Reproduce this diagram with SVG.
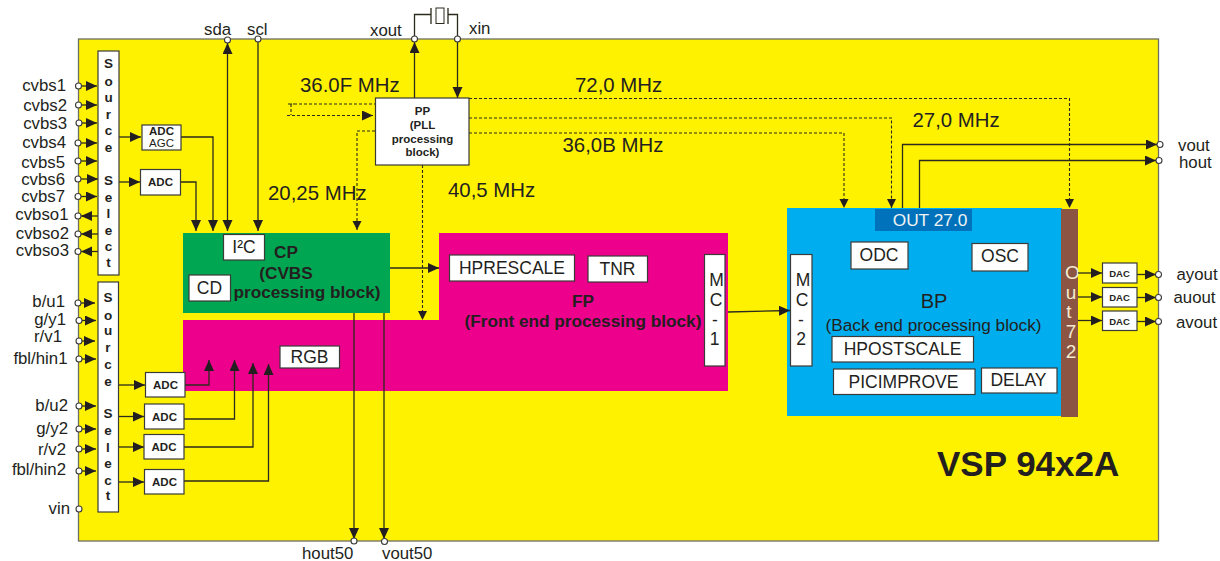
<svg xmlns="http://www.w3.org/2000/svg" width="1220" height="561" viewBox="0 0 1220 561">
<style>
text{font-family:"Liberation Sans",Arial,sans-serif;fill:#231f20}
.pin{font-size:16.8px}.r{text-anchor:end}
.mhz{font-size:20.4px}
.lbl{font-size:17.5px;text-anchor:middle}
.b{font-weight:bold}
.big{font-size:17.2px;text-anchor:middle;font-weight:bold}
.adc{font-size:11.5px;font-weight:bold;text-anchor:middle}
.dac{font-size:9.5px;font-weight:bold;text-anchor:middle}
.src{font-size:13.5px;font-weight:bold;text-anchor:middle}
.w{fill:#fff;stroke:#3a3a38;stroke-width:1.2}
.c{fill:none;stroke:#2b2a1c;stroke-width:1.3}
.d{fill:none;stroke:#2b2a1c;stroke-width:1.1;stroke-dasharray:3 2}
.a{marker-end:url(#arr)}
.s{marker-end:url(#sm)}
.p{fill:#fff;stroke:#3a3a38;stroke-width:1.1}
.o{fill:#f3ead0;font-size:19px;text-anchor:middle}
</style>
<defs>
<marker id="arr" markerUnits="userSpaceOnUse" markerWidth="12" markerHeight="11" refX="11" refY="5" orient="auto"><path d="M0 0L11 5L0 10Z" fill="#231f20"/></marker>
<marker id="sm" markerUnits="userSpaceOnUse" markerWidth="10" markerHeight="10" refX="9" refY="4.500" orient="auto"><path d="M0 0L9 4.500L0 9Z" fill="#231f20"/></marker>
<marker id="arrs" markerUnits="userSpaceOnUse" markerWidth="12" markerHeight="11" refX="11" refY="5" orient="auto-start-reverse"><path d="M0 0L11 5L0 10Z" fill="#231f20"/></marker>
</defs>

<g id="chip"><rect x="78.500" y="39" width="1080" height="502" fill="#fff200" stroke="#6d6e63" stroke-width="1.300"/></g>

<g id="cp-block"><rect x="183" y="233" width="207" height="80" fill="#00a651"/>
<text class="big" x="286" y="258">CP</text><text class="big" x="286" y="279">(CVBS</text><text class="big" x="307" y="298">processing block)</text></g>
<g id="fp-block"><path d="M183 320H439V233H728V391H183Z" fill="#ec008c"/>
<text class="big" x="583" y="307">FP</text><text class="big" x="583" y="327">(Front end processing block)</text></g>
<g id="bp-block"><rect x="787" y="208" width="275" height="208" fill="#00aeef"/>
<text x="934" y="308" font-size="20" text-anchor="middle">BP</text><text x="933.500" y="331" font-size="17.200" text-anchor="middle">(Back end processing block)</text></g>
<g id="out72"><rect x="1061" y="209" width="17" height="208" fill="#8c5543"/>
<text class="o" x="1072.500" y="279">O</text><text class="o" x="1071" y="299">u</text><text class="o" x="1069" y="318">t</text><text class="o" x="1071" y="338">7</text><text class="o" x="1071" y="358">2</text></g>
<g id="out27"><rect x="875" y="209" width="97" height="22" fill="#0072bc"/><text x="930" y="226" font-size="17.300" text-anchor="middle" style="fill:#f2f2f2">OUT 27.0</text></g>

<g id="connectors">
<g class="conn-solid">
<path class="c a" d="M78 86H97"/><path class="c a" d="M78 105H97"/><path class="c a" d="M79 123H97"/><path class="c a" d="M78 143H97"/><path class="c a" d="M78 161H97"/><path class="c a" d="M78 179H98"/><path class="c a" d="M78 196.500H97"/>
<path class="c a" d="M98 216H81"/><path class="c a" d="M98 234H81"/><path class="c a" d="M98 251.500H81"/>
<path class="c a" d="M78 303H95"/><path class="c a" d="M79 320.500H96"/><path class="c a" d="M79 341H95"/><path class="c a" d="M79 359H96"/>
<path class="c a" d="M79 406H96"/><path class="c a" d="M79 429H96"/><path class="c a" d="M79 449H96"/><path class="c a" d="M79 471H96"/>
<path class="c a" d="M119 137H141"/><path class="c a" d="M119 182H140"/>
<path class="c a" d="M181 137H213V231"/><path class="c a" d="M180.500 182H196V231"/>
<path class="c a" d="M227.500 231V43" marker-start="url(#arrs)"/>
<path class="c a" d="M258 39V231"/>
<path class="c a" d="M118 385H145"/><path class="c a" d="M118 416.500H144"/><path class="c a" d="M118 447H144"/><path class="c a" d="M118 482H144"/>
<path class="c a" d="M185 385H209V360"/><path class="c a" d="M184 419H234.500V360"/><path class="c a" d="M184 447H253V363"/><path class="c a" d="M184 481H268.500V364"/>
<path class="c a" d="M354 313V539"/><path class="c a" d="M384 313V539"/>
<path class="c a" d="M414.500 98V42"/><path class="c a" d="M457.500 39V98"/>
<path class="c" d="M414.500 39V14.500H431M448 14.500H457.500V39"/>
<path class="c" d="M431 8V24M448 8V24"/><rect x="436" y="8" width="8" height="15.500" fill="none" stroke="#2b2a1c" stroke-width="1"/>
<path class="c a" d="M390 268H439"/>
<path class="c a" d="M728 312L790 310.500"/>
<path class="c a" d="M902.500 208V144.500H1157"/><path class="c a" d="M919.500 208V160.500H1156"/>
<path class="c a" d="M1078 273H1102"/><path class="c a" d="M1078 297H1102"/><path class="c a" d="M1078 320.500H1102"/>
<path class="c a" d="M1137 274.500H1156"/><path class="c a" d="M1137 297.500H1156"/><path class="c a" d="M1137 321.500H1156"/>
</g>
<g class="conn-dashed">
<path class="d" d="M289 104H375M291 104V115M288 104H294"/>
<path class="d" d="M287 115.500H373" marker-end="url(#arr)"/>
<path class="d s" d="M375 131H357V230"/>
<path class="d s" d="M422.500 165V320"/>
<path class="d s" d="M469 98.500H1069.500V208"/>
<path class="d s" d="M469 118H891.500V208"/>
<path class="d s" d="M469 133H844V208"/>
</g>
</g>

<g id="source-select-1"><rect class="w" x="98" y="51" width="21" height="224"/>
<text class="src" x="108.500" y="68">S</text><text class="src" x="108.500" y="86">o</text><text class="src" x="108.500" y="102">u</text><text class="src" x="108.500" y="119">r</text><text class="src" x="108.500" y="135">c</text><text class="src" x="108.500" y="152">e</text><text class="src" x="108.500" y="185">S</text><text class="src" x="108.500" y="202">e</text><text class="src" x="108.500" y="218">l</text><text class="src" x="108.500" y="235">e</text><text class="src" x="108.500" y="251">c</text><text class="src" x="108.500" y="267">t</text></g>
<g id="source-select-2"><rect class="w" x="98" y="282" width="20.500" height="230"/>
<text class="src" x="108" y="302">S</text><text class="src" x="108" y="320">o</text><text class="src" x="108" y="335">u</text><text class="src" x="108" y="352">r</text><text class="src" x="108" y="369">c</text><text class="src" x="108" y="386">e</text><text class="src" x="108" y="418">S</text><text class="src" x="108" y="435">e</text><text class="src" x="108" y="452">l</text><text class="src" x="108" y="468">e</text><text class="src" x="108" y="485">c</text><text class="src" x="108" y="500">t</text></g>

<g id="adc-agc"><rect class="w" x="142" y="125" width="39" height="25"/><text class="adc" x="161.500" y="135">ADC</text><text x="161.500" y="147" font-size="11.500" text-anchor="middle">AGC</text></g>
<g id="adc-1"><rect class="w" x="140.500" y="169.500" width="40" height="25.500"/><text class="adc" x="160.500" y="186">ADC</text></g>
<g id="adc-2"><rect class="w" x="145.500" y="372.500" width="39.500" height="24.500"/><text class="adc" x="165.500" y="388.500">ADC</text></g>
<g id="adc-3"><rect class="w" x="144.500" y="404" width="39.500" height="25"/><text class="adc" x="164.500" y="420.500">ADC</text></g>
<g id="adc-4"><rect class="w" x="144" y="434.500" width="40" height="24.500"/><text class="adc" x="164" y="450.500">ADC</text></g>
<g id="adc-5"><rect class="w" x="144.500" y="469.500" width="39.500" height="24.500"/><text class="adc" x="164.500" y="485.500">ADC</text></g>

<g id="i2c"><rect class="w" x="223.500" y="234.500" width="41" height="25.500"/><text class="lbl" x="244" y="253">I²C</text></g>
<g id="cd"><rect class="w" x="189" y="275" width="41.500" height="26"/><text class="lbl" x="209.500" y="293.500">CD</text></g>
<g id="rgb"><rect class="w" x="280" y="346" width="59.500" height="22"/><text class="lbl" x="309.500" y="362.500">RGB</text></g>
<g id="hprescale"><rect class="w" x="449.500" y="255" width="125" height="26"/><text class="lbl" x="512" y="273.500">HPRESCALE</text></g>
<g id="tnr"><rect class="w" x="588" y="256" width="59.500" height="26"/><text class="lbl" x="617.500" y="274.500">TNR</text></g>
<g id="mc1"><rect class="w" x="704.500" y="254.500" width="20.500" height="111.500"/><text class="lbl" x="716.500" y="286">M</text><text class="lbl" x="716" y="305.700">C</text><text class="lbl" x="715" y="326">-</text><text class="lbl" x="714.500" y="345">1</text></g>
<g id="mc2"><rect class="w" x="790.500" y="254.500" width="21.500" height="111.500"/><text class="lbl" x="803" y="286">M</text><text class="lbl" x="802" y="305.700">C</text><text class="lbl" x="801" y="326">-</text><text class="lbl" x="801" y="345">2</text></g>
<g id="odc"><rect class="w" x="851" y="242" width="57" height="27"/><text class="lbl" x="879" y="261">ODC</text></g>
<g id="osc"><rect class="w" x="972" y="243.500" width="56" height="27.500"/><text class="lbl" x="1000" y="262">OSC</text></g>
<g id="hpostscale"><rect class="w" x="832" y="336.500" width="141.500" height="25.500"/><text class="lbl" x="902.500" y="354.500">HPOSTSCALE</text></g>
<g id="picimprove"><rect class="w" x="833.500" y="369" width="141.500" height="25.500"/><text class="lbl" x="903.500" y="387.500">PICIMPROVE</text></g>
<g id="delay"><rect class="w" x="981.500" y="368" width="75.500" height="25"/><text class="lbl" x="1018.500" y="386">DELAY</text></g>

<g id="pp"><rect class="w" x="375.500" y="98" width="93.500" height="67"/>
<text class="adc" x="422.500" y="115">PP</text><text class="adc" x="422.500" y="129">(PLL</text><text class="adc" x="422.500" y="143">processing</text><text class="adc" x="422.500" y="156">block)</text></g>

<g id="dac-1"><rect class="w" x="1102.500" y="263" width="34.500" height="20"/><text class="dac" x="1119.500" y="276.500">DAC</text></g>
<g id="dac-2"><rect class="w" x="1102.500" y="287.500" width="34.500" height="19.500"/><text class="dac" x="1119.500" y="300.500">DAC</text></g>
<g id="dac-3"><rect class="w" x="1102.500" y="311" width="34.500" height="19.500"/><text class="dac" x="1119.500" y="324.500">DAC</text></g>

<g id="pins">
<circle class="p" cx="78.500" cy="86" r="3"/><circle class="p" cx="78.500" cy="105" r="3"/><circle class="p" cx="79" cy="123" r="3"/><circle class="p" cx="78" cy="143" r="3"/><circle class="p" cx="78" cy="161" r="3"/><circle class="p" cx="78" cy="179" r="3"/><circle class="p" cx="78" cy="196.500" r="3"/><circle class="p" cx="78" cy="216" r="3"/><circle class="p" cx="78" cy="234" r="3"/><circle class="p" cx="78" cy="251.500" r="3"/>
<circle class="p" cx="78" cy="303" r="3"/><circle class="p" cx="79" cy="320.500" r="3"/><circle class="p" cx="79" cy="341" r="3"/><circle class="p" cx="79" cy="359" r="3"/><circle class="p" cx="79" cy="406" r="3"/><circle class="p" cx="79" cy="429" r="3"/><circle class="p" cx="79" cy="449" r="3"/><circle class="p" cx="79" cy="471" r="3"/><circle class="p" cx="79" cy="509" r="3"/>
<circle class="p" cx="227.500" cy="40" r="3"/><circle class="p" cx="258" cy="39" r="3"/><circle class="p" cx="414.500" cy="39" r="3"/><circle class="p" cx="457.500" cy="39" r="3"/>
<circle class="p" cx="354" cy="541" r="3"/><circle class="p" cx="384.500" cy="541.500" r="3"/>
<circle class="p" cx="1160" cy="144.500" r="3"/><circle class="p" cx="1159" cy="160.500" r="3"/><circle class="p" cx="1158.500" cy="274.500" r="3"/><circle class="p" cx="1158.500" cy="297.500" r="3"/><circle class="p" cx="1158.500" cy="321.500" r="3"/>
</g>

<g id="labels">
<text class="pin r" x="66" y="91">cvbs1</text><text class="pin r" x="67" y="111">cvbs2</text><text class="pin r" x="67" y="129">cvbs3</text><text class="pin r" x="66" y="148">cvbs4</text><text class="pin r" x="65" y="168">cvbs5</text><text class="pin r" x="65" y="185">cvbs6</text><text class="pin r" x="65" y="202">cvbs7</text><text class="pin r" x="68.500" y="220">cvbso1</text><text class="pin r" x="69" y="239">cvbso2</text><text class="pin r" x="69" y="256">cvbso3</text>
<text class="pin r" x="65" y="307">b/u1</text><text class="pin r" x="66" y="325">g/y1</text><text class="pin r" x="62" y="342">r/v1</text><text class="pin r" x="67.500" y="364">fbl/hin1</text><text class="pin r" x="68" y="411">b/u2</text><text class="pin r" x="68" y="434">g/y2</text><text class="pin r" x="66" y="455">r/v2</text><text class="pin r" x="66" y="475">fbl/hin2</text><text class="pin r" x="70" y="514">vin</text>
<text class="pin" x="204" y="35">sda</text><text class="pin" x="247" y="35">scl</text><text class="pin" x="370" y="36">xout</text><text class="pin" x="469" y="34">xin</text>
<text class="pin" x="302" y="559">hout50</text><text class="pin" x="382" y="559">vout50</text>
<text class="pin" x="1178" y="151">vout</text><text class="pin" x="1179" y="168">hout</text><text class="pin" x="1176.500" y="280">ayout</text><text class="pin" x="1173.500" y="303">auout</text><text class="pin" x="1176" y="328">avout</text>
<text class="mhz" x="300" y="92">36.0F MHz</text><text class="mhz" x="575" y="92">72,0 MHz</text><text class="mhz" x="562.500" y="152">36,0B MHz</text><text class="mhz" x="448" y="197">40,5 MHz</text><text class="mhz" x="268" y="200">20,25 MHz</text><text class="mhz" x="912.500" y="127">27,0 MHz</text>
<text x="937" y="476" font-size="35" font-weight="bold">VSP 94x2A</text>
</g>
</svg>
